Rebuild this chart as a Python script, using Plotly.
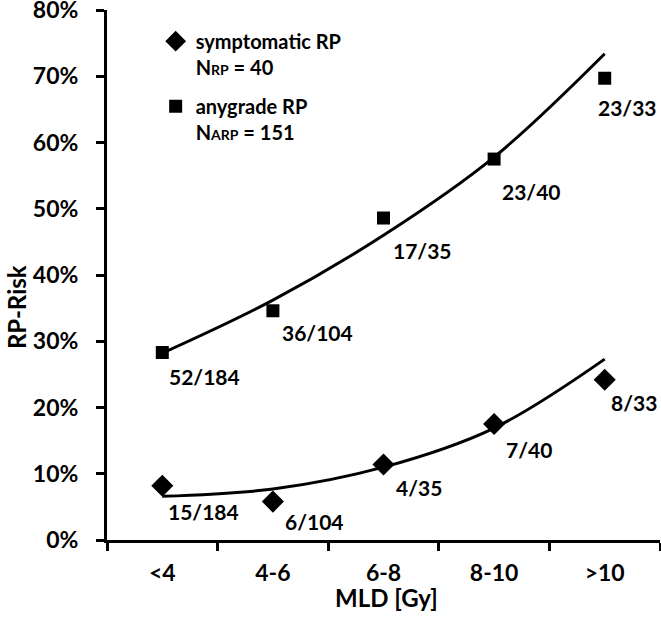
import plotly.graph_objects as go

categories = ["<4", "4-6", "6-8", "8-10", ">10"]
anygrade_risk = [28.3, 34.6, 48.6, 57.5, 69.7]
anygrade_labels = ["52/184", "36/104", "17/35", "23/40", "23/33"]
anygrade_trend = [28.2, 36.2, 46.0, 57.8, 73.4]
sympt_risk = [8.2, 5.8, 11.4, 17.5, 24.2]
sympt_labels = ["15/184", "6/104", "4/35", "7/40", "8/33"]
sympt_trend = [6.6, 7.7, 11.0, 16.9, 27.3]
y_ticks = [0, 10, 20, 30, 40, 50, 60, 70, 80]
y_ticktext = ["0%", "10%", "20%", "30%", "40%", "50%", "60%", "70%", "80%"]

# label offsets in px (dx right, dy down) - styling only
any_off = [(5, 24), (7, 22), (7, 32), (6, 32), (-9, 29)]
sym_off = [(4, 26), (10, 20), (10, 23), (10, 25), (4, 23)]

FONT = "Lato"
fig = go.Figure()

for trend in (anygrade_trend, sympt_trend):
    fig.add_trace(go.Scatter(x=categories, y=trend, mode="lines",
                             line=dict(color="black", width=3, shape="spline", smoothing=1.0),
                             showlegend=False, hoverinfo="skip"))

fig.add_trace(go.Scatter(x=categories, y=sympt_risk, mode="markers", legendgroup="a",
                         marker=dict(symbol="diamond", size=17, color="black"),
                         name="symptomatic RP<br>N<span style='font-size:14px'>RP</span> = 40"))
fig.add_trace(go.Scatter(x=categories, y=anygrade_risk, mode="markers", legendgroup="b",
                         marker=dict(symbol="square", size=13, color="black"),
                         name="anygrade RP<br>N<span style='font-size:14px'>ARP</span> = 151"))

for vals, labs, offs in [(anygrade_risk, anygrade_labels, any_off),
                         (sympt_risk, sympt_labels, sym_off)]:
    for c, v, t, (dx, dy) in zip(categories, vals, labs, offs):
        fig.add_annotation(x=c, y=v, text=t, showarrow=False, xanchor="left", yanchor="middle",
                           xshift=dx, yshift=-dy,
                           font=dict(family=FONT, size=21, color="black", weight="bold"))

fig.add_annotation(text="RP-Risk", xref="paper", yref="paper", x=-0.164, y=0.44,
                   textangle=-90, showarrow=False, xanchor="center", yanchor="middle",
                   font=dict(family=FONT, size=24, color="black", weight="bold"))
fig.add_annotation(text="MLD [Gy]", xref="paper", yref="paper", x=0.505, y=-0.108,
                   showarrow=False, xanchor="center", yanchor="middle",
                   font=dict(family=FONT, size=24, color="black", weight="bold"))

fig.update_layout(
    width=661, height=620,
    margin=dict(l=107, r=1, t=10, b=80),
    plot_bgcolor="white", paper_bgcolor="white",
    font=dict(family=FONT, size=23, color="black", weight="bold"),
    legend=dict(x=0.088, y=0.978, xanchor="left", yanchor="top", valign="top",
                bgcolor="rgba(0,0,0,0)", font=dict(family=FONT, size=20, weight="bold"),
                tracegroupgap=10, itemwidth=30),
    xaxis=dict(type="category", range=[-0.5, 4.5], showline=True, linecolor="black", linewidth=3,
               ticks="outside", tickson="boundaries", ticklen=8, tickwidth=3, tickcolor="black",
               showgrid=False, zeroline=False, ticklabelstandoff=10, automargin=False),
    yaxis=dict(range=[0, 80], tickmode="array", tickvals=y_ticks, ticktext=y_ticktext,
               showline=True, linecolor="black", ticklabeloverflow="allow",
               linewidth=3, ticks="outside", ticklen=8, tickwidth=3, tickcolor="black",
               showgrid=False, zeroline=False, ticklabelstandoff=13, automargin=False),
)

fig.write_html("out.html", config={"displayModeBar": False},
               post_script="document.body.style.margin='0';")
